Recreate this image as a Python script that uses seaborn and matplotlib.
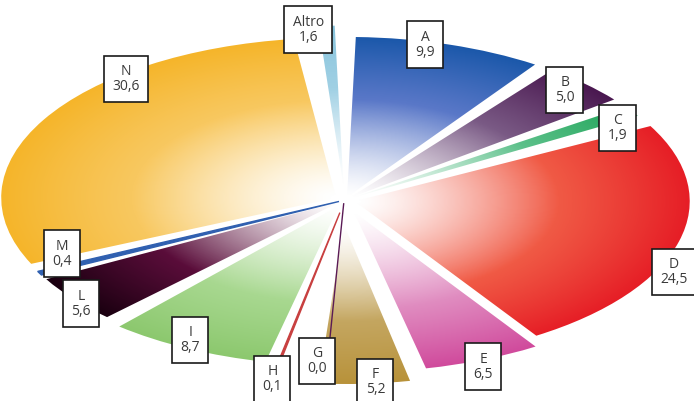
import numpy as np
import matplotlib
matplotlib.use("Agg")
import matplotlib.pyplot as plt
import seaborn as sns

# ---- data ----
labels = ["A", "B", "C", "D", "E", "F", "G", "H", "I", "L", "M", "N", "Altro"]
values = [9.9, 5.0, 1.9, 24.5, 6.5, 5.2, 0.0, 0.1, 8.7, 5.6, 0.4, 30.6, 1.6]
value_text = ["9,9", "5,0", "1,9", "24,5", "6,5", "5,2", "0,0", "0,1", "8,7", "5,6", "0,4", "30,6", "1,6"]

# colour stops per slice: (middle, outer edge)
mid_colors = ["#5a78c8", "#7a5a85", "#5cc08a", "#f05a45", "#e08cc0", "#c4a660", "#5a1a55",
              "#c84040", "#a8d890", "#5a0d3a", "#3060b0", "#f8c860", "#a0d0e4"]
edge_colors = ["#1b58aa", "#4a1850", "#1fa558", "#e61e26", "#d04a9c", "#b8923a", "#5a1a55",
               "#c84040", "#8cc86e", "#1a0010", "#3060b0", "#f5b52a", "#88c4dc"]

# layout tweaks (not data)
explode = [0.02, 0.02, 0.02, 0.03, 0.08, 0.15, 0.02, 0.08, 0.04, 0.02, 0.02, 0.03, 0.09]
rotate = [0, 0, 0, 0, 3, 5, 8, 0, 0, 0, 0, 0, 0]
label_r = [1.00, 0.95, 0.93, 1.08, 1.12, 1.14, 1.01, 1.14, 0.99, 1.02, 0.91, 1.00, 1.07]
label_da = [4, 1, -4, -10, 2, 6, 6, 0, -1, 2, -5, -20, 3]
gap = 1.5  # degrees trimmed from each side of a slice

sns.set_theme(style="white")
plt.rcParams["font.family"] = ["Open Sans", "DejaVu Sans"]

fig = plt.figure(figsize=(6.94, 4.01), dpi=100)
ax = fig.add_axes([0, 0, 1, 1])

wedges, _ = ax.pie(values, startangle=90, counterclock=False, explode=explode,
                   normalize=True, wedgeprops=dict(linewidth=0))

# radial gradient images clipped to each wedge
gx = np.linspace(-1.3, 1.3, 700)
gy = np.linspace(-1.5, 1.5, 700)
X, Y = np.meshgrid(gx, gy)
total = sum(values)
cum = 0.0
for i, w in enumerate(wedges):
    frac = values[i] / total
    mid_ang = 90 - 360 * (cum + frac / 2)
    cum += frac
    width = w.theta2 - w.theta1
    t1, t2 = w.theta1 + rotate[i], w.theta2 + rotate[i]
    if width > 2 * gap + 1:
        w.set_theta1(t1 + gap)
        w.set_theta2(t2 - gap)
        cx, cy = w.center
        cmap = sns.blend_palette(["#ffffff", mid_colors[i], edge_colors[i]], as_cmap=True)
        rr = np.clip(np.hypot(X - cx, Y - cy), 0, 1)
        img = cmap(rr ** 1.4)
        im = ax.imshow(img, extent=(gx[0], gx[-1], gy[0], gy[-1]), origin="lower",
                       aspect="auto", interpolation="bilinear", zorder=1)
        im.set_clip_path(w)
        w.set_facecolor("none")
    else:
        # very thin slices shown as a line
        w.set_theta1(t1)
        w.set_theta2(t2)
        w.set_facecolor(edge_colors[i])
        w.set_edgecolor(edge_colors[i])
        w.set_linewidth(1.0)
    w.set_zorder(2)

    a = np.deg2rad(mid_ang + label_da[i])
    ax.text(label_r[i] * np.cos(a), label_r[i] * np.sin(a), f"{labels[i]}\n{value_text[i]}",
            ha="center", va="center", fontsize=10, color="#3a3a3a", linespacing=1.0,
            zorder=5,
            bbox=dict(boxstyle="square,pad=0.6", facecolor="white", edgecolor="#1a1a1a",
                      linewidth=1.2))

ax.set_aspect("auto")
ax.set_xlim(-345 / 335, 349 / 335)
ax.set_ylim(-1.256, 1.25)
ax.axis("off")

fig.savefig("out.png", dpi=100, facecolor="white")
